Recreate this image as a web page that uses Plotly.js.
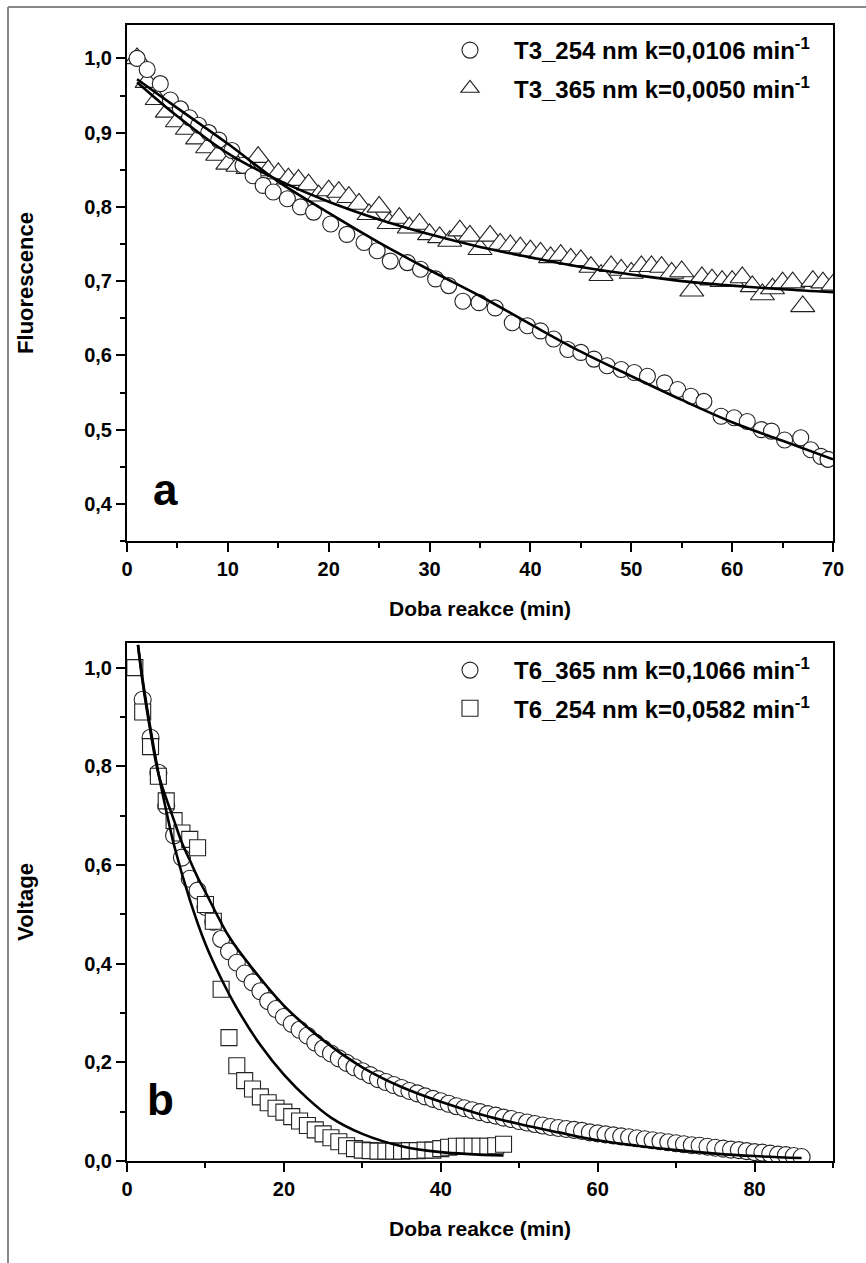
<!DOCTYPE html>
<html>
<head>
<meta charset="utf-8">
<script src="https://cdn.plot.ly/plotly-3.0.1.min.js"></script>
<style>
html,body{margin:0;padding:0;background:#fff;}
#chart{width:866px;height:1263px;}
</style>
</head>
<body>
<div id="chart"></div>
<script>
// ---------- Panel a : Fluorescence ----------
var t254 = [1, 2, 3.3, 4.3, 5.3, 6.2, 7.1, 8.1, 9.1, 10.4, 11.5, 12.5, 13.5, 14.5, 15.9, 17.2, 18.5, 20.2, 21.8, 23.5, 24.8, 26.1, 27.8, 29.1, 30.6, 31.9, 33.3, 34.9, 36.5, 38.2, 39.7, 41, 42.3, 43.7, 45, 46.3, 47.6, 49, 50.3, 51.6, 53.3, 54.6, 55.9, 57.2, 58.9, 60.2, 61.5, 62.9, 63.9, 65.2, 66.8, 67.8, 68.8, 69.5];
var v254 = [1.0, 0.985, 0.966, 0.944, 0.932, 0.92, 0.91, 0.90, 0.89, 0.876, 0.856, 0.842, 0.829, 0.82, 0.811, 0.80, 0.793, 0.777, 0.763, 0.752, 0.741, 0.727, 0.725, 0.716, 0.703, 0.694, 0.673, 0.671, 0.664, 0.644, 0.64, 0.633, 0.622, 0.608, 0.604, 0.595, 0.586, 0.581, 0.577, 0.572, 0.563, 0.554, 0.545, 0.538, 0.518, 0.516, 0.511, 0.50, 0.498, 0.486, 0.489, 0.473, 0.464, 0.46];

var t365 = [1,2,3,4,5,6,7,8,9,10,11,12,13,14,15,16,17,18,19,20,21,22,23,24,25,26,27,28,29,30,31,32,33,34,35,36,37,38,39,40,41,42,43,44,45,46,47,48,49,50,51,52,53,54,55,56,57,58,59,60,61,62,63,64,65,66,67,68,69,70];
var v365 = [1.0,0.968,0.945,0.928,0.915,0.905,0.892,0.88,0.87,0.858,0.855,0.852,0.867,0.849,0.845,0.838,0.836,0.83,0.815,0.822,0.82,0.813,0.804,0.79,0.80,0.778,0.785,0.772,0.777,0.763,0.759,0.754,0.768,0.761,0.743,0.761,0.75,0.748,0.745,0.741,0.738,0.732,0.735,0.73,0.728,0.719,0.708,0.72,0.715,0.711,0.72,0.72,0.719,0.711,0.713,0.687,0.705,0.702,0.70,0.70,0.705,0.693,0.682,0.69,0.698,0.698,0.666,0.70,0.698,0.695];

var fitT_a = [1,5,10,15,20,25,30,35,40,45,50,55,60,65,70];
var fit254 = [0.972,0.933,0.885,0.834,0.792,0.752,0.715,0.68,0.642,0.605,0.572,0.54,0.51,0.485,0.46];
var fit365 = [0.968,0.922,0.872,0.836,0.807,0.783,0.763,0.746,0.732,0.719,0.709,0.700,0.694,0.689,0.685];

// ---------- Panel b : Voltage ----------
var tB365 = [2,3,4,5,6,7,8,9,10,11,12,13,14,15,16,17,18,19,20,21,22,23,24,25,26,27,28,29,30,31,32,33,34,35,36,37,38,39,40,41,42,43,44,45,46,47,48,49,50,51,52,53,54,55,56,57,58,59,60,61,62,63,64,65,66,67,68,69,70,71,72,73,74,75,76,77,78,79,80,81,82,83,84,85,86];
var vB365 = [0.935,0.858,0.787,0.72,0.66,0.615,0.572,0.548,0.515,0.485,0.45,0.425,0.402,0.38,0.362,0.344,0.324,0.308,0.292,0.278,0.266,0.254,0.24,0.228,0.218,0.208,0.199,0.19,0.182,0.174,0.166,0.16,0.154,0.148,0.142,0.137,0.131,0.126,0.121,0.116,0.111,0.107,0.103,0.099,0.095,0.092,0.088,0.085,0.081,0.078,0.075,0.072,0.069,0.067,0.065,0.063,0.061,0.058,0.056,0.054,0.052,0.05,0.048,0.046,0.044,0.042,0.04,0.038,0.036,0.034,0.032,0.031,0.029,0.027,0.025,0.023,0.022,0.02,0.018,0.017,0.015,0.013,0.012,0.01,0.008];

var tB254 = [1,2,3,4,5,6,7,8,9,10,11,12,13,14,15,16,17,18,19,20,21,22,23,24,25,26,27,28,29,30,31,32,33,34,35,36,37,38,39,40,41,42,43,44,45,46,47,48];
var vB254 = [1.0,0.91,0.84,0.78,0.73,0.69,0.665,0.652,0.635,0.52,0.486,0.348,0.25,0.193,0.163,0.146,0.13,0.118,0.107,0.099,0.09,0.081,0.072,0.063,0.055,0.047,0.039,0.031,0.025,0.022,0.021,0.02,0.02,0.02,0.02,0.021,0.021,0.022,0.022,0.025,0.028,0.03,0.03,0.03,0.03,0.03,0.031,0.034];

var fitT_b365 = [1.4,2,3,4,5,6,7,8,9,10,13,16,20,25,30,35,40,45,50,55,60,65,70,75,80,86];
var fitB365 = [1.046,0.97,0.87,0.785,0.735,0.69,0.645,0.61,0.575,0.545,0.455,0.39,0.315,0.245,0.19,0.15,0.12,0.095,0.075,0.058,0.042,0.031,0.022,0.015,0.01,0.006];
var fitT_b254 = [1.4,2,3,4,5,6,8,10,12,14,17,20,23,26,30,35,40,48];
var fitB254 = [1.046,0.975,0.875,0.787,0.71,0.64,0.53,0.44,0.37,0.31,0.235,0.175,0.127,0.088,0.055,0.03,0.018,0.011];

// ---------- Labels ----------
var name254a = 'T3_254 nm k=0,0106 min<sup>-1</sup>';
var name365a = 'T3_365 nm k=0,0050 min<sup>-1</sup>';
var name365b = 'T6_365 nm k=0,1066 min<sup>-1</sup>';
var name254b = 'T6_254 nm k=0,0582 min<sup>-1</sup>';
var xTitle = 'Doba reakce (min)';
var yTitleA = 'Fluorescence';
var yTitleB = 'Voltage';

var FONT = 'Liberation Sans, Arial, Helvetica, sans-serif';
var W = 866, H = 1263;

function mk(x, y, name, sym, size, xa, ya, leg, rank) {
  return {x:x, y:y, name:name, type:'scatter', mode:'markers', xaxis:xa, yaxis:ya,
    legend:leg, legendrank:rank, legendgroup:name,
    marker:{symbol:sym, size:size, color:'white', line:{color:'#222', width:1.1}}};
}
function ln(x, y, xa, ya) {
  return {x:x, y:y, type:'scatter', mode:'lines', xaxis:xa, yaxis:ya, showlegend:false,
    line:{color:'black', width:2.6, shape:'spline', smoothing:1}, hoverinfo:'skip'};
}

var data = [
  mk(t365, v365, name365a, 'triangle-up', 21, 'x', 'y', 'legend', 2),
  mk(t254, v254, name254a, 'circle', 16, 'x', 'y', 'legend', 1),
  ln(fitT_a, fit254, 'x', 'y'),
  ln(fitT_a, fit365, 'x', 'y'),
  mk(tB365, vB365, name365b, 'circle', 17, 'x2', 'y2', 'legend2', 1),
  mk(tB254, vB254, name254b, 'square', 16, 'x2', 'y2', 'legend2', 2),
  ln(fitT_b365, fitB365, 'x2', 'y2'),
  ln(fitT_b254, fitB254, 'x2', 'y2')
];

var tickFont = {family:FONT, size:20, color:'black', weight:'bold'};
var xTitleFont = {family:FONT, size:21, color:'black', weight:'bold'};
var yTitleFont = {family:FONT, size:22, color:'black', weight:'bold'};

var xDom = [127/W, 833/W];
var yDomA = [1-541/H, 1-25/H];
var yDomB = [1-1161/H, 1-643/H];

function mainX(dom, rng, dt, mdt, anchor) {
  return {domain:dom, range:rng, anchor:anchor, dtick:dt, tick0:0, ticks:'outside', ticklen:9, tickwidth:2,
    tickcolor:'black', linecolor:'black', linewidth:2, mirror:true, showgrid:false, zeroline:false,
    minor:{dtick:mdt, tick0:0, ticks:'outside', ticklen:5, tickwidth:2, tickcolor:'black', showgrid:false},
    tickfont:tickFont, title:{text:xTitle, font:xTitleFont, standoff:22}};
}
function mainY(dom, rng, dt, mdt, anchor, title) {
  return {domain:dom, range:rng, anchor:anchor, dtick:dt, tick0:0, tickformat:'.1f', ticks:'outside', ticklen:9, tickwidth:2,
    tickcolor:'black', linecolor:'black', linewidth:2, mirror:true, showgrid:false, zeroline:false,
    minor:{dtick:mdt, tick0:0, ticks:'outside', ticklen:5, tickwidth:2, tickcolor:'black', showgrid:false},
    tickfont:tickFont, title:{text:title, font:yTitleFont, standoff:44}};
}
function mirX(over, anchor, rng, dt) {
  return {overlaying:over, anchor:anchor, side:'top', range:rng, dtick:dt, tick0:0, ticks:'inside', ticklen:6,
    tickwidth:2, tickcolor:'black', showticklabels:false, showline:false, showgrid:false, zeroline:false};
}
function mirY(over, anchor, rng, dt) {
  return {overlaying:over, anchor:anchor, side:'right', range:rng, dtick:dt, tick0:0, ticks:'inside', ticklen:6,
    tickwidth:2, tickcolor:'black', showticklabels:false, showline:false, showgrid:false, zeroline:false};
}

var legFont = {family:FONT, size:24, color:'black', weight:'bold'};

var layout = {
  width:W, height:H, margin:{l:0, r:0, t:0, b:0},
  paper_bgcolor:'white', plot_bgcolor:'white',
  separators:', ',
  showlegend:true,
  xaxis: mainX(xDom, [0,70], 10, 5, 'y'),
  yaxis: mainY(yDomA, [0.35,1.045], 0.1, 0.05, 'x', yTitleA),
  xaxis2: mainX(xDom, [0,90], 20, 10, 'y2'),
  yaxis2: mainY(yDomB, [0,1.05], 0.2, 0.1, 'x2', yTitleB),
  xaxis3: mirX('x', 'y', [0,70], 5),
  yaxis3: mirY('y', 'x', [0.35,1.045], 0.05),
  xaxis4: mirX('x2', 'y2', [0,90], 10),
  yaxis4: mirY('y2', 'x2', [0,1.05], 0.1),
  legend: {x:426/W, y:1-28/H, xanchor:'left', yanchor:'top', bgcolor:'rgba(0,0,0,0)',
    font:legFont, traceorder:'grouped', tracegroupgap:4, itemsizing:'trace', itemwidth:78},
  legend2: {x:426/W, y:1-648/H, xanchor:'left', yanchor:'top', bgcolor:'rgba(0,0,0,0)',
    font:legFont, traceorder:'grouped', tracegroupgap:4, itemsizing:'trace', itemwidth:78},
  annotations: [
    {text:'a', xref:'x domain', yref:'y domain', x:0.054, y:0.099, xanchor:'center', yanchor:'middle', showarrow:false,
     font:{family:FONT, size:44, color:'black', weight:'bold'}},
    {text:'b', xref:'x2 domain', yref:'y2 domain', x:0.048, y:0.118, xanchor:'center', yanchor:'middle', showarrow:false,
     font:{family:FONT, size:44, color:'black', weight:'bold'}}
  ],
  shapes: [
    {type:'line', xref:'paper', yref:'paper', x0:8/W, x1:8/W, y0:0, y1:1-7/H, line:{color:'#888', width:2}},
    {type:'line', xref:'paper', yref:'paper', x0:8/W, x1:1, y0:1-7/H, y1:1-7/H, line:{color:'#888', width:2}}
  ]
};

Plotly.newPlot('chart', data, layout, {staticPlot:true, displayModeBar:false});
</script>
</body>
</html>
